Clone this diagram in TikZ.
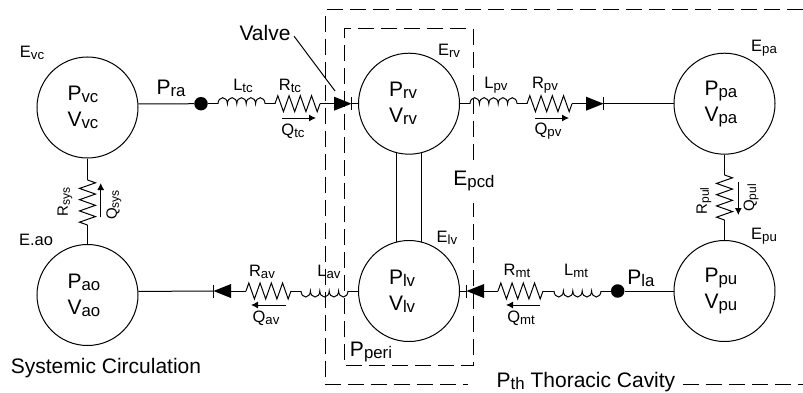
\documentclass[tikz,border=0pt]{standalone}
\usepackage{fontspec}
\setmainfont{Liberation Sans}
\usetikzlibrary{decorations.pathmorphing}
\usetikzlibrary{arrows.meta}
\newcommand{\lsub}[1]{\raisebox{-2pt}{\scalebox{0.8}{#1}}}
\tikzset{
  chamber/.style={draw,circle,line width=1pt,minimum size=101pt,inner sep=0pt,text width=40pt,align=left,font=\fontsize{21}{26}\selectfont},
  joint/.style={fill,circle,minimum size=13.5pt,inner sep=0pt},
  biglabel/.style={inner sep=1pt,font=\fontsize{21}{24}\selectfont},
  smalllabel/.style={inner sep=1pt,font=\fontsize{16.5}{18}\selectfont},
  sidelabel/.style={inner sep=1pt,rotate=90,font=\fontsize{15}{17}\selectfont},
  wire/.style={line width=1pt},
  flow/.style={line width=1pt,-{Latex[length=7pt,width=7pt]}},
  boundary/.style={line width=1pt,dash pattern=on 16pt off 7pt},
  pics/resistor/.style={code={
    \coordinate (-a) at (0,0);
    \coordinate (-b) at (45,0);
    \draw[wire,decorate,decoration={zigzag,amplitude=8pt,segment length=11.25pt,pre length=0pt,post length=0pt}] (-a) -- (-b);
  }},
  pics/inductor/.style={code={
    \coordinate (-a) at (0,0);
    \coordinate (-b) at (47,0);
    \draw[wire] (-a) \foreach \i in {1,...,5}{arc[start angle=180,end angle=0,x radius=4.7pt,y radius=6pt]};
  }},
  pics/valve/.style={code={
    \coordinate (-a) at (0,0);
    \coordinate (-b) at (17.5,0);
    \fill (0,-7) -- (17.5,0) -- (0,7) -- cycle;
    \draw[wire] (17.5,-6.5) -- (17.5,6.5);
  }}
}
\begin{document}
\begin{tikzpicture}[x=1pt,y=1pt]
\useasboundingbox (0,0) rectangle (803,392);
% chambers
\node[chamber] (vc) at (87.5,284.5) {P\lsub{vc}\\V\lsub{vc}};
\node[chamber] (ao) at (87.5,97) {P\lsub{ao}\\V\lsub{ao}};
\node[chamber] (rv) at (409,288.3) {P\lsub{rv}\\V\lsub{rv}};
\node[chamber] (lv) at (409,101) {P\lsub{lv}\\V\lsub{lv}};
\node[chamber] (pa) at (724.5,288.3) {P\lsub{pa}\\V\lsub{pa}};
\node[chamber] (pu) at (724.5,101) {P\lsub{pu}\\V\lsub{pu}};
% top row
\node[joint] (ra) at (201,288.3) {};
\pic (ltc) at (218,288.3) {inductor};
\pic (rtc) at (275,288.3) {resistor};
\pic (tcV) at (334,288.3) {valve};
\draw[wire] (vc.4.3) -- (ra);
\draw[wire] (ra) -- (ltc-a);
\draw[wire] (ltc-b) -- (rtc-a);
\draw[wire] (rtc-b) -- (tcV-a);
\draw[wire] (tcV-b) -- (rv.west);
\pic (lpv) at (470,288.3) {inductor};
\pic (rpv) at (527,288.3) {resistor};
\pic (pvV) at (586,288.3) {valve};
\draw[wire] (rv.east) -- (lpv-a);
\draw[wire] (lpv-b) -- (rpv-a);
\draw[wire] (rpv-b) -- (pvV-a);
\draw[wire] (pvV-b) -- (pa.west);
% bottom row
\node[joint] (la) at (617.7,101) {};
\pic[rotate=180] (lmt) at (601,101) {inductor};
\pic[rotate=180] (rmt) at (543,101) {resistor};
\pic[rotate=180] (mtV) at (484,101) {valve};
\draw[wire] (pu.west) -- (la);
\draw[wire] (la) -- (lmt-a);
\draw[wire] (lmt-b) -- (rmt-a);
\draw[wire] (rmt-b) -- (mtV-a);
\draw[wire] (mtV-b) -- (lv.east);
\pic[rotate=180] (lav) at (348,101) {inductor};
\pic[rotate=180] (rav) at (291,101) {resistor};
\pic[rotate=180] (avV) at (231,101) {valve};
\draw[wire] (lv.west) -- (lav-a);
\draw[wire] (lav-b) -- (rav-a);
\draw[wire] (rav-b) -- (avV-a);
\draw[wire] (avV-b) -- (ao.4.5);
% verticals
\pic[rotate=90] (rsys) at (87.5,167) {resistor};
\draw[wire] (ao.north) -- (rsys-a);
\draw[wire] (rsys-b) -- (vc.south);
\pic[rotate=-90] (rpul) at (724.5,217) {resistor};
\draw[wire] (pa.south) -- (rpul-a);
\draw[wire] (rpul-b) -- (pu.north);
\draw[wire] (rv.256) -- (lv.104);
\draw[wire] (rv.284) -- (lv.76);
% flows
\coordinate (qtcA) at (282,274);
\coordinate (qtcB) at (316,274);
\draw[flow] (qtcA) -- (qtcB);
\coordinate (qpvA) at (535,274);
\coordinate (qpvB) at (569,274);
\draw[flow] (qpvA) -- (qpvB);
\coordinate (qavA) at (286,87);
\coordinate (qavB) at (251,87);
\draw[flow] (qavA) -- (qavB);
\coordinate (qmtA) at (540,87);
\coordinate (qmtB) at (506,87);
\draw[flow] (qmtA) -- (qmtB);
\coordinate (qsysA) at (100.7,175);
\coordinate (qsysB) at (100.7,209);
\draw[flow] (qsysA) -- (qsysB);
\coordinate (qpulA) at (738.3,210);
\coordinate (qpulB) at (738.3,177);
\draw[flow] (qpulA) -- (qpulB);
% boundaries
\draw[boundary] (803,382) -- (325.7,382) -- (325.7,7.5) -- (468,7.5);
\draw[boundary] (683,7.5) -- (803,7.5);
\draw[boundary] (473,232) -- (473,363.3) -- (344.7,363.3) -- (344.7,26.3) -- (473,26.3) -- (473,189);
% labels
\node[biglabel] (valvelabel) at (265,359) {Valve};
\coordinate (valvetip) at (335,301);
\draw[wire,shorten <=4pt] (valvelabel.east) -- (valvetip);
\node[biglabel] (pralabel) at (171,304) {P\lsub{ra}};
\node[biglabel] (plalabel) at (641,114) {P\lsub{la}};
\node[biglabel] (epcdlabel) at (474,211) {E\lsub{pcd}};
\node[biglabel] (perilabel) at (371,40) {P\lsub{peri}};
\node[biglabel] (syslabel) at (106,24) {Systemic Circulation};
\node[biglabel,anchor=base] (thlabel) at (586,5) {P\lsub{th} Thoracic Cavity};
\node[smalllabel] (evclabel) at (32,339) {E\lsub{vc}};
\node[smalllabel] (eaolabel) at (36,152) {E.ao};
\node[smalllabel] (ervlabel) at (449,341) {E\lsub{rv}};
\node[smalllabel] (elvlabel) at (447,154) {E\lsub{lv}};
\node[smalllabel] (epalabel) at (764,344) {E\lsub{pa}};
\node[smalllabel] (epulabel) at (764,156) {E\lsub{pu}};
\node[smalllabel] (ltclabel) at (243,306) {L\lsub{tc}};
\node[smalllabel] (rtclabel) at (290,306) {R\lsub{tc}};
\node[smalllabel] (qtclabel) at (293,261) {Q\lsub{tc}};
\node[smalllabel] (lpvlabel) at (496,307) {L\lsub{pv}};
\node[smalllabel] (rpvlabel) at (545,307) {R\lsub{pv}};
\node[smalllabel] (qpvlabel) at (548,261) {Q\lsub{pv}};
\node[smalllabel] (ravlabel) at (262,120) {R\lsub{av}};
\node[smalllabel] (lavlabel) at (329,120) {L\lsub{av}};
\node[smalllabel] (qavlabel) at (266,74) {Q\lsub{av}};
\node[smalllabel] (rmtlabel) at (517,121) {R\lsub{mt}};
\node[smalllabel] (lmtlabel) at (576,121) {L\lsub{mt}};
\node[smalllabel] (qmtlabel) at (521,74) {Q\lsub{mt}};
\node[sidelabel] (rsyslabel) at (65,190) {R\lsub{sys}};
\node[sidelabel] (qsyslabel) at (114,187) {Q\lsub{sys}};
\node[sidelabel] (rpullabel) at (704,191) {R\lsub{pul}};
\node[sidelabel] (qpullabel) at (751,194) {Q\lsub{pul}};
\end{tikzpicture}
\end{document}
